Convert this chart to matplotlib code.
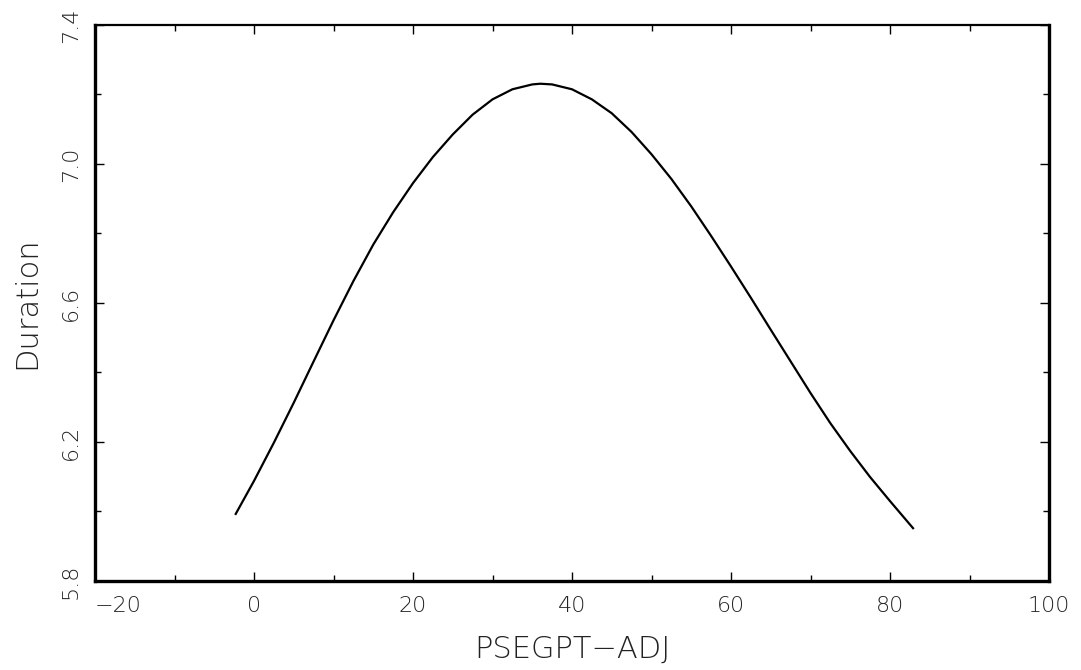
import matplotlib
matplotlib.use("Agg")
import matplotlib.pyplot as plt
from matplotlib.ticker import MultipleLocator

# Data
psegpt_adj = [-2.3, 0, 2.5, 5, 7.5, 10, 12.5, 15, 17.5, 20, 22.5, 25, 27.5, 30,
              32.5, 35, 36, 37.5, 40, 42.5, 45, 47.5, 50, 52.5, 55, 57.5, 60,
              62.5, 65, 67.5, 70, 72.5, 75, 77.5, 80, 82.9]
duration = [5.993, 6.088, 6.198, 6.313, 6.432, 6.550, 6.663, 6.768, 6.861, 6.945,
            7.020, 7.085, 7.142, 7.186, 7.215, 7.229, 7.231, 7.229, 7.215, 7.186,
            7.146, 7.092, 7.028, 6.957, 6.878, 6.793, 6.705, 6.615, 6.523, 6.432,
            6.341, 6.254, 6.174, 6.099, 6.030, 5.952]

x_ticks = [-20, 0, 20, 40, 60, 80, 100]
y_ticks = [5.8, 6.2, 6.6, 7.0, 7.4]
x_label = "PSEGPT\u2212ADJ"
y_label = "Duration"

plt.rcParams['font.family'] = ['DejaVu Sans']
plt.rcParams['font.weight'] = 200
txt_color = '#222222'

fig = plt.figure(figsize=(10.81, 6.70), dpi=100)
ax = fig.add_axes([95/1081, 89/670, (1049-95)/1081, (581-25)/670])

ax.plot(psegpt_adj, duration, color='black', lw=1.6, solid_joinstyle='round')

ax.set_xlim(-20, 100)
ax.set_ylim(5.8, 7.4)
ax.set_xticks(x_ticks)
ax.set_yticks(y_ticks)
ax.xaxis.set_minor_locator(MultipleLocator(10))
ax.yaxis.set_minor_locator(MultipleLocator(0.2))
xlabs = ax.set_xticklabels([str(v) if v >= 0 else "\u2212" + str(-v) for v in x_ticks],
                           fontweight=200)
xlabs[0].set_horizontalalignment('left')
ax.set_yticklabels([f"{v:.1f}" for v in y_ticks], rotation=90, va='center',
                   fontweight=200)

ax.tick_params(which='both', direction='in', top=True, right=True,
               labelsize=16, labelcolor=txt_color, width=1.0, color='black')
ax.tick_params(which='major', length=6.5)
ax.tick_params(which='minor', length=4)
ax.tick_params(axis='x', which='major', pad=11)
ax.tick_params(axis='y', which='major', pad=10)

for side, w in [('left', 2.4), ('bottom', 2.4), ('right', 2.4), ('top', 1.6)]:
    ax.spines[side].set_linewidth(w)
    ax.spines[side].set_color('black')

ax.set_xlabel(x_label, fontsize=22, color=txt_color, labelpad=13, fontweight=200)
ax.set_ylabel(y_label, fontsize=22, color=txt_color, labelpad=14, fontweight=200)

fig.savefig("out.png", dpi=100, facecolor='white')
